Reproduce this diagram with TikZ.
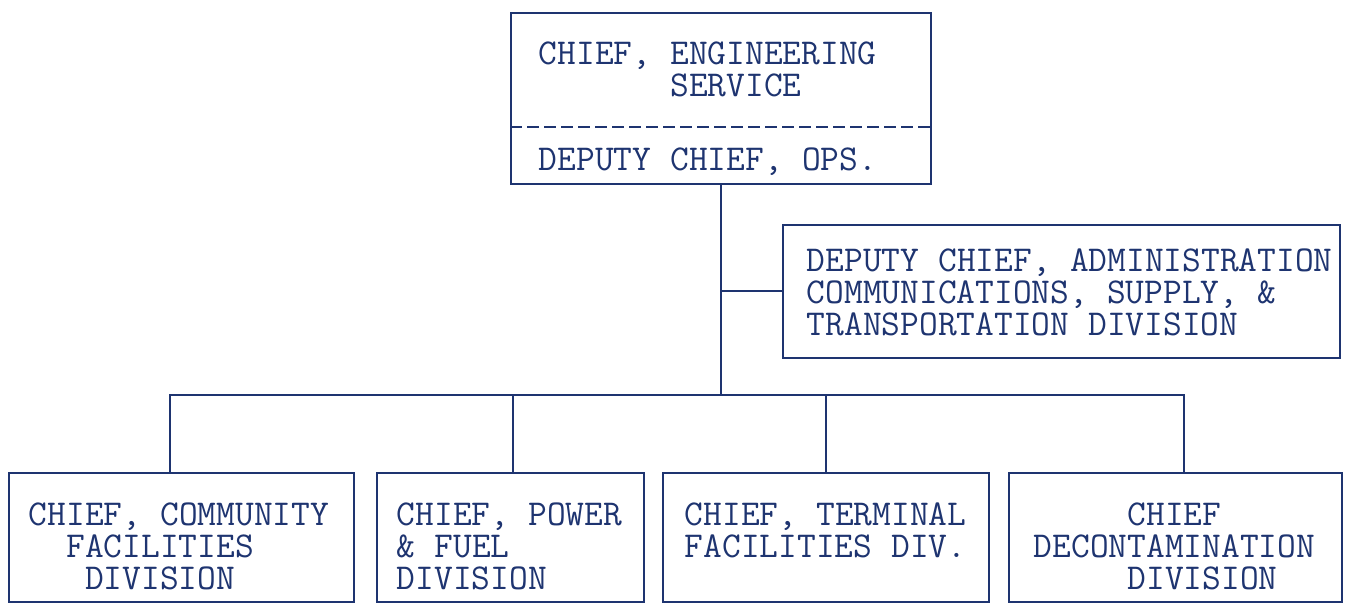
\documentclass[tikz,border=0pt]{standalone}
\usepackage{fontspec}
\usetikzlibrary{scopes}

\definecolor{ink}{RGB}{30,52,112}
\tikzset{
  orgbox/.style={draw, inner sep=0pt, anchor=north west},
  typed/.style={font=\ttfamily\fontsize{18.2pt}{16pt}\selectfont,
    execute at begin node={\spaceskip=9.555pt\relax},
    inner sep=0pt, anchor=base west, align=left, text width=300pt}
}

\begin{document}
\begin{tikzpicture}[x=0.5pt, y=-0.5pt, color=ink, line width=0.9pt]
  \useasboundingbox (0,0) rectangle (1355,603);

  % boxes
  \node[orgbox, minimum width=210pt, minimum height=85.5pt] (chief) at (510,12) {};
  \node[orgbox, minimum width=278.5pt, minimum height=66.5pt] (adm) at (782,224) {};
  \node[orgbox, minimum width=172.5pt, minimum height=64.5pt] (comm) at (8,472) {};
  \node[orgbox, minimum width=133.5pt, minimum height=64.5pt] (power) at (376,472) {};
  \node[orgbox, minimum width=163pt, minimum height=64.5pt] (term) at (662,472) {};
  \node[orgbox, minimum width=166.5pt, minimum height=64.5pt] (decon) at (1008,472) {};

  \coordinate (sep) at (720,127);
  \draw[dash pattern=on 6pt off 2.5pt] (chief.west |- sep) -- (chief.east |- sep);

  % typed texts
  \node[typed] (chieftxt) at (538,65) {CHIEF, ENGINEERING\\\hphantom{CHIEF, }SERVICE};
  \node[typed] (opstxt) at (538,171) {DEPUTY CHIEF, OPS.};
  \node[typed] (admtxt) at (806,272) {DEPUTY CHIEF, ADMINISTRATION\\COMMUNICATIONS, SUPPLY, \&\\TRANSPORTATION DIVISION};
  \node[typed] (commtxt) at (28,526) {CHIEF, COMMUNITY\\\hphantom{CH}FACILITIES\\\hphantom{CHI}DIVISION};
  \node[typed] (powertxt) at (396,526) {CHIEF, POWER\\\& FUEL\\DIVISION};
  \node[typed] (termtxt) at (684,526) {CHIEF, TERMINAL\\FACILITIES DIV.};
  \node[typed] (decontxt) at (1033,526) {\hphantom{DECON}CHIEF\\DECONTAMINATION\\\hphantom{DECON}DIVISION};

  % lines
  \coordinate (bus) at (722,395);
  \draw (chief.south) -- (chief.south |- bus);
  \draw (adm.west) -- (adm.west -| chief.south);
  \draw ([xshift=-5.75pt]comm.north) |- (bus) -| ([xshift=4.25pt]decon.north);
  \draw ([xshift=1.25pt]power.north) -- ([xshift=1.25pt]power.north |- bus);
  \draw (term.north) -- (term.north |- bus);
\end{tikzpicture}
\end{document}
